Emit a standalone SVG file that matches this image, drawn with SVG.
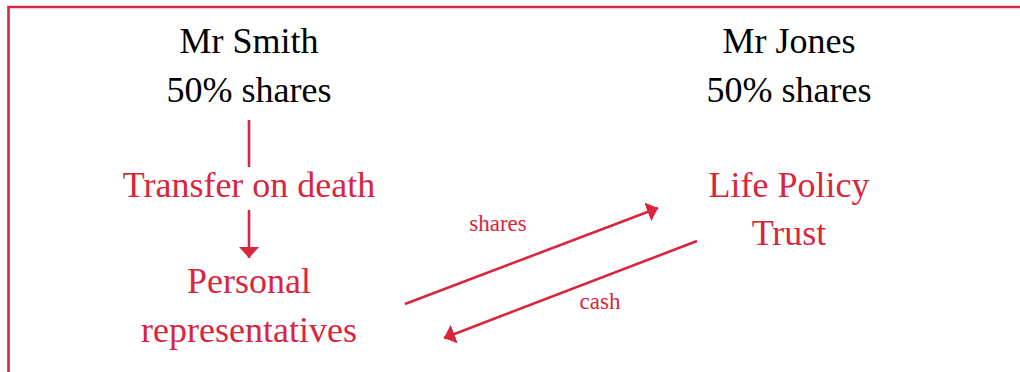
<svg xmlns="http://www.w3.org/2000/svg" width="1020" height="372" viewBox="0 0 1020 372">
<style>
  .t { font-family: "Liberation Serif", "Times New Roman", serif; font-size: 36px; text-anchor: middle; }
  .k { fill: #000; }
  .r { fill: #d7263d; }
  .s { font-family: "Liberation Serif", "Times New Roman", serif; font-size: 23px; text-anchor: middle; fill: #d7263d; }
  .ln { stroke: #d7263d; stroke-width: 2.6; fill: none; }
</style>
<defs>
  <marker id="ah" markerUnits="userSpaceOnUse" markerWidth="12" markerHeight="20" refX="11" refY="10" orient="auto">
    <path d="M0,0 L11,10 L0,20 Z" fill="#d7263d"/>
  </marker>
</defs>
<rect width="1020" height="372" fill="#fff"/>
<g id="frame">
  <path class="ln" d="M8.5,372 L8.5,7 L1020,7"/>
</g>
<g id="smith">
  <text class="t k" x="249" y="53">Mr Smith</text>
  <text class="t k" x="249" y="102">50% shares</text>
</g>
<g id="jones">
  <text class="t k" x="789" y="53">Mr Jones</text>
  <text class="t k" x="789" y="102">50% shares</text>
</g>
<g id="transfer">
  <text class="t r" x="249" y="197">Transfer on death</text>
</g>
<g id="personal">
  <text class="t r" x="249" y="293">Personal</text>
  <text class="t r" x="249" y="342">representatives</text>
</g>
<g id="trust">
  <text class="t r" x="789" y="197">Life Policy</text>
  <text class="t r" x="789" y="245">Trust</text>
</g>
<g id="connectors">
  <line class="ln" x1="249" y1="120" x2="249" y2="167"/>
  <line class="ln" x1="249" y1="210" x2="249" y2="258" marker-end="url(#ah)"/>
  <line class="ln" x1="405" y1="304" x2="658" y2="208" marker-end="url(#ah)"/>
  <line class="ln" x1="697" y1="241" x2="444" y2="338" marker-end="url(#ah)"/>
  <text class="s" x="498" y="231">shares</text>
  <text class="s" x="600" y="309">cash</text>
</g>
</svg>
